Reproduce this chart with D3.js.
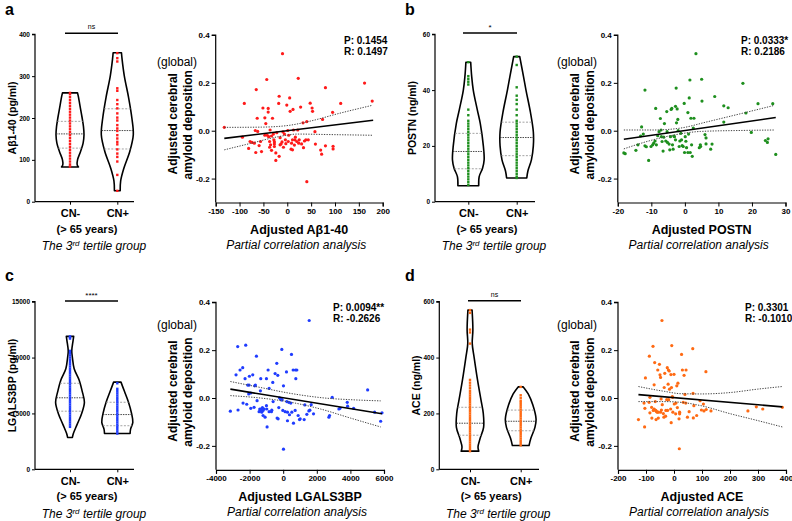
<!DOCTYPE html>
<html><head><meta charset="utf-8">
<script src="https://cdn.jsdelivr.net/npm/d3@7"></script>
<style>body{margin:0;background:#fff} svg text{font-family:"Liberation Sans",Arial,sans-serif}</style>
</head><body><svg id="chart" width="792" height="521"></svg>
<script>
// ---------------- DATA ----------------
const groups = ["CN-", "CN+"];
const scatterYTicks = [-0.2, 0, 0.2, 0.4];

// Panel a: Aβ1-40
const aViolinTicks = [0, 100, 200, 300, 400];
const aDotsNeg = [260,257,250,243,236,229,222,215,208,201,194,187,180,173,166,159,152,145,138,131,124,117,110,103,96,89,84];
const aDotsPos = [355,343,335,271,265,243,233,223,211,201,194,183,175,169,159,151,143,137,125,115,107,96,64,26];
const aProfileNeg = [[83,0.53],[88,0.45],[100,0.47],[120,0.66],[140,0.82],[160,0.875],[180,0.84],[200,0.76],[230,0.62],[250,0.53],[260,0.47]];
const aProfilePos = [[26,0.18],[50,0.21],[80,0.41],[120,0.78],[160,1.0],[200,0.91],[250,0.70],[300,0.44],[340,0.30],[356,0.26]];
const aQuartNeg = [128, 162, 192];
const aQuartPos = [126, 170, 222];
const aXTicks = [-150,-100,-50,0,50,100,150,200];
const aPoints = [[-132,0.014],[-94,-0.027],[-90,0.114],[-81,-0.074],[-66,-0.091],[-65,0.172],[-63,0.052],[-62,-0.003],[-67,0.001],[-78,-0.045],[-74,-0.049],[-69,-0.052],[-59,-0.062],[-54,-0.087],[-51,0.095],[-47,0.054],[-45,0.030],[-43,0.214],[-42,-0.019],[-40,0.093],[-40,0.078],[-36,0.003],[-39,-0.025],[-37,-0.045],[-35,-0.059],[-37,-0.069],[-33,-0.082],[-31,0.052],[-29,-0.014],[-28,-0.038],[-27,-0.047],[-27,-0.056],[-27,-0.066],[-24,-0.093],[-24,-0.124],[-18,0.114],[-17,0.144],[-17,-0.107],[-15,-0.029],[-13,-0.055],[-11,-0.047],[-10,0.322],[-9,-0.005],[-8,-0.069],[-6,-0.014],[-4,-0.038],[-3,-0.054],[-1,0.107],[1,0.001],[3,-0.019],[5,0.137],[6,0.081],[9,-0.052],[11,-0.080],[12,0.089],[13,0.003],[15,-0.060],[17,-0.027],[20,-0.045],[22,0.003],[23,0.219],[24,-0.052],[28,0.099],[30,-0.055],[33,0.033],[34,-0.071],[36,-0.043],[39,-0.038],[41,0.038],[41,-0.213],[44,-0.038],[48,0.115],[52,0.095],[53,0.081],[58,-0.004],[59,-0.056],[70,-0.081],[72,-0.098],[74,0.047],[80,0.180],[80,-0.063],[95,0.077],[96,-0.065],[96,-0.076],[112,0.114],[162,0.199],[178,0.124],[2,-0.045],[8,-0.077],[16,-0.038],[-22,-0.008],[-33,-0.022],[-47,-0.019],[-56,-0.045],[-15,-0.059],[25,-0.038],[11,-0.038]];
const aFit = [[-132,-0.032],[180,0.044]];
const aUpper = [[-132,0.014],[-54,0.015],[2,0.022],[50,0.041],[106,0.071],[178,0.106]];
const aLower = [[-132,-0.080],[-75,-0.052],[-19,-0.025],[22,-0.014],[85,-0.016],[178,-0.019]];

// Panel b: POSTN
const bViolinTicks = [0, 20, 40, 60];
const bDotsNeg = [50,45,44,43,42,33,31,29,28,27,26,25,24,23,22,21,20,19,18,17,16,15,14,13,12,11,10,9,8,7,6];
const bDotsPos = [52,49,41,38,36.5,35,33,31,29,28,27,26,25,24,23,22,21,20,19,18,17,16,15,14,13,12,11,10,9,8.5];
const bProfileNeg = [[5.7,0.65],[9,0.68],[12,0.89],[15,0.99],[20,0.94],[28,0.75],[33,0.56],[40,0.31],[45,0.21],[50,0.15]];
const bProfilePos = [[8.5,0.63],[11,0.70],[15,0.92],[20,1.04],[25,1.04],[32,0.86],[40,0.58],[45,0.42],[52,0.19]];
const bQuartNeg = [11.8, 18, 24.5];
const bQuartPos = [16.5, 23, 28.5];
const bXTicks = [-20,-10,0,10,20,30];
const bPoints = [[-18.2,-0.093],[-17.8,-0.096],[-14.6,-0.082],[-14.0,-0.059],[-13.2,-0.022],[-12.9,0.016],[-12.4,-0.014],[-11.9,0.170],[-11.9,-0.063],[-11.5,-0.067],[-10.8,-0.124],[-10.1,-0.066],[-9.6,-0.059],[-8.9,-0.043],[-8.7,0.093],[-8.5,-0.059],[-8.1,-0.021],[-7.7,-0.004],[-7.3,0.051],[-7.1,0.003],[-7.0,-0.025],[-6.8,-0.045],[-6.5,-0.085],[-6.3,-0.027],[-6.1,0.030],[-5.7,-0.043],[-5.4,0.080],[-5.2,-0.049],[-4.7,-0.056],[-4.5,-0.080],[-4.1,0.089],[-3.9,0.093],[-3.7,-0.059],[-3.5,-0.077],[-3.3,-0.022],[-3.1,-0.025],[-2.8,0.102],[-2.6,0.178],[-2.5,0.033],[-2.3,0.091],[-2.1,0.047],[-2.0,0.000],[-1.7,-0.066],[-1.5,-0.043],[-1.0,-0.038],[-0.8,-0.062],[-0.5,-0.066],[-0.2,0.114],[-0.1,-0.091],[0.3,-0.044],[0.5,-0.071],[0.9,0.076],[0.9,-0.091],[1.1,-0.014],[1.3,0.137],[1.5,0.212],[1.6,-0.091],[1.8,0.052],[2.0,-0.059],[2.2,-0.107],[2.5,0.011],[2.7,0.052],[3.3,0.322],[4.3,-0.071],[4.6,-0.059],[4.7,-0.066],[5.0,0.215],[5.1,0.124],[6.0,-0.016],[6.3,-0.030],[6.3,-0.055],[7.7,-0.077],[8.1,-0.056],[8.9,0.143],[11.6,0.104],[11.6,0.036],[12.9,0.096],[17.3,0.198],[18.2,0.074],[19.8,-0.007],[21.8,0.113],[24.0,-0.041],[24.6,-0.049],[24.8,-0.034],[26.2,0.113],[27.1,-0.099],[-5.3,-0.004],[-1.2,-0.011],[-2.8,-0.038],[-9.3,-0.052],[-4.3,-0.025],[0.1,-0.025]];
const bFit = [[-18.2,-0.036],[27.1,0.055]];
const bUpper = [[-18.2,0.003],[-9.3,0.003],[-1.3,0.011],[6.6,0.037],[16.6,0.071],[26.7,0.106]];
const bLower = [[-18.2,-0.076],[-11.3,-0.045],[-3.3,-0.018],[4.7,-0.003],[16.6,0.001],[26.7,0.003]];

// Panel c: LGALS3BP
const cViolinTicks = [0, 5000, 10000, 15000];
const cDotsNeg = [11900,11800,11700,10600,10400,10200,10000,9800,9600,9400,9200,9000,8800,8600,8400,8200,8000,7800,7600,7400,7200,7000,6800,6600,6400,6200,6000,5800,5600,5400,5200,5000,4800,4600,4400,4200,4000,3800];
const cDotsPos = [7700,7200,7000,6800,6600,6400,6200,6000,5800,5600,5400,5200,5000,4800,4600,4400,4200,4000,3800,3600,3400,3200];
const cProfileNeg = [[2850,0.15],[3200,0.21],[4000,0.44],[5000,0.73],[6000,0.90],[7000,0.76],[8000,0.57],[9000,0.26],[10000,0.15],[10600,0.11],[11500,0.19],[11900,0.23]];
const cProfilePos = [[3200,0.80],[3600,0.83],[4200,0.97],[5000,0.89],[6000,0.70],[7000,0.44],[7800,0.23]];
const cQuartNeg = [5200, 6400, 7700];
const cQuartPos = [3900, 4900, 6000];
const cXTicks = [-4000,-2000,0,2000,4000,6000];
const cPoints = [[-3145,-0.055],[-2807,0.097],[-2708,0.215],[-2688,-0.050],[-2569,0.117],[-2410,0.127],[-2390,-0.021],[-2270,0.081],[-2231,0.221],[-2171,-0.026],[-2111,0.054],[-2052,0.017],[-2032,0.054],[-2012,0.091],[-1932,0.021],[-1932,-0.043],[-1813,0.097],[-1734,-0.039],[-1694,0.051],[-1654,0.054],[-1594,0.175],[-1555,-0.011],[-1435,-0.057],[-1396,-0.046],[-1356,0.030],[-1336,0.081],[-1316,-0.046],[-1276,-0.059],[-1236,-0.040],[-1197,-0.052],[-1197,-0.073],[-1137,-0.046],[-1078,-0.080],[-998,0.081],[-998,-0.032],[-978,-0.046],[-958,-0.121],[-899,0.117],[-839,0.040],[-839,-0.057],[-700,-0.057],[-680,-0.051],[-600,-0.015],[-481,0.102],[-382,0.145],[-362,-0.084],[-322,0.095],[-302,-0.087],[-262,-0.040],[-222,0.001],[-163,-0.004],[-103,-0.008],[-83,0.203],[-63,-0.007],[-23,-0.052],[16,0.051],[16,-0.214],[115,-0.057],[195,0.109],[215,-0.015],[254,-0.095],[334,-0.018],[374,-0.070],[453,-0.021],[493,0.182],[513,-0.059],[592,0.117],[612,-0.105],[712,-0.052],[732,0.117],[751,0.081],[811,0.117],[890,-0.073],[970,-0.090],[1010,-0.087],[1248,-0.090],[1288,-0.029],[1407,-0.068],[1527,-0.054],[1547,0.324],[1587,-0.051],[1666,-0.028],[1805,-0.066],[2720,-0.080],[2760,-0.073],[2918,0.003],[3316,-0.046],[3376,-0.043],[3813,-0.018],[3833,-0.034],[4191,-0.043],[5026,0.034],[5443,-0.059],[5801,-0.097],[5881,-0.062],[254,-0.059],[-1356,-0.052],[-620,0.065]];
const cFit = [[-3145,0.037],[5881,-0.066]];
const cUpper = [[-3145,0.069],[-1356,0.044],[632,0.017],[2620,-0.001],[4012,-0.007],[5801,-0.012]];
const cLower = [[-3145,0.010],[-1356,0.000],[235,-0.015],[2223,-0.046],[4012,-0.084],[5801,-0.121]];

// Panel d: ACE
const dViolinTicks = [0, 200, 400, 600];
const dDotsNeg = [570,560,500,490,450,320,310,300,290,280,272,264,256,248,240,232,224,216,208,200,192,184,176,168,160,152,144,136,128,120,112,104,96,88,80,72,65];
const dDotsPos = [295,265,255,245,238,230,222,214,206,198,190,182,174,166,158,150,142,134,126,118,110,102,94,86];
const dProfileNeg = [[65,0.55],[80,0.50],[110,0.63],[150,0.85],[200,0.83],[250,0.68],[320,0.47],[400,0.26],[450,0.14],[500,0.18],[570,0.13]];
const dProfilePos = [[85,0.52],[110,0.63],[150,0.89],[180,0.96],[230,0.76],[270,0.47],[295,0.16]];
const dQuartNeg = [122, 165, 222];
const dQuartPos = [138, 172, 212];
const dXTicks = [-200,-100,0,100,200,300,400];
const dPoints = [[-127,-0.090],[-105,-0.121],[-102,0.084],[-107,-0.021],[-104,-0.043],[-89,-0.018],[-88,0.175],[-86,0.003],[-86,-0.062],[-80,-0.039],[-79,-0.084],[-75,0.216],[-71,0.055],[-71,-0.046],[-69,0.148],[-68,-0.050],[-67,-0.015],[-65,-0.052],[-64,-0.090],[-62,-0.057],[-60,-0.059],[-58,0.117],[-56,-0.059],[-56,-0.084],[-52,0.141],[-50,0.097],[-48,0.086],[-46,-0.004],[-45,-0.050],[-43,0.324],[-42,-0.028],[-38,-0.065],[-36,-0.080],[-35,0.044],[-33,0.103],[-30,-0.076],[-29,-0.052],[-26,-0.007],[-24,0.127],[-23,-0.052],[-21,0.058],[-20,0.117],[-19,-0.007],[-17,0.113],[-16,0.037],[-12,-0.046],[-11,0.098],[-10,-0.103],[-9,0.044],[-8,0.219],[-6,0.006],[-5,0.003],[-4,-0.059],[0,0.099],[1,-0.025],[7,-0.021],[10,0.051],[12,-0.040],[14,0.062],[19,-0.212],[18,-0.087],[20,-0.059],[20,-0.066],[27,0.182],[30,0.117],[33,-0.018],[36,0.095],[39,0.015],[42,-0.021],[43,0.117],[48,-0.080],[54,-0.057],[67,0.206],[68,0.019],[69,-0.083],[71,-0.032],[81,-0.073],[93,-0.011],[98,-0.050],[105,-0.025],[107,-0.054],[114,0.110],[115,-0.048],[132,-0.054],[264,-0.054],[294,-0.037],[317,-0.046],[387,-0.039],[-74,-0.052],[-48,-0.059],[6,-0.066]];
const dFit = [[-127,0.014],[387,-0.037]];
const dUpper = [[-127,0.048],[-35,0.028],[25,0.018],[96,0.017],[202,0.023],[298,0.037],[387,0.048]];
const dLower = [[-127,-0.015],[-35,-0.015],[25,-0.018],[96,-0.032],[202,-0.066],[298,-0.094],[387,-0.121]];

// ---------------- LAYOUT ----------------
const panels = [
  {letter:"a", lx:5, ly:15, color:"#ff1a1a",
   v:{axisX:35, centers:[70,117.3], yTop:34.3, yBot:201.7, xEnd:134, domain:[0,400], ticks:aViolinTicks,
      dotsNeg:aDotsNeg, dotsPos:aDotsPos, profNeg:aProfileNeg, profPos:aProfilePos, qNeg:aQuartNeg, qPos:aQuartPos,
      ylabel:"Aβ1-40 (pg/ml)", sig:"ns", sigY:33.3, sigX:[65,118]},
   s:{x0:215.7, x1:382.7, yTop:35, yBot:202.5, domain:[-150,200], ticks:aXTicks, points:aPoints, fit:aFit, up:aUpper, lo:aLower,
      xlabel:"Adjusted Aβ1-40", p:"P: 0.1454", r:"R: 0.1497", px:344, globalX:157, globalY:66}},
  {letter:"b", lx:405, ly:15, color:"#1e8f1e",
   v:{axisX:435, centers:[468.3,516.7], yTop:34.3, yBot:201.7, xEnd:535, domain:[0,60], ticks:bViolinTicks,
      dotsNeg:bDotsNeg, dotsPos:bDotsPos, profNeg:bProfileNeg, profPos:bProfilePos, qNeg:bQuartNeg, qPos:bQuartPos,
      ylabel:"POSTN (ng/ml)", sig:"*", sigY:33, sigX:[463,517]},
   s:{x0:617.8, x1:785.5, yTop:35, yBot:202.5, domain:[-20,30], ticks:bXTicks, points:bPoints, fit:bFit, up:bUpper, lo:bLower,
      xlabel:"Adjusted POSTN", p:"P: 0.0333*", r:"R: 0.2186", px:741, globalX:557, globalY:66}},
  {letter:"c", lx:5, ly:281, color:"#1f3cff",
   v:{axisX:35, centers:[70,117.3], yTop:301.7, yBot:469.3, xEnd:134, domain:[0,15000], ticks:cViolinTicks,
      dotsNeg:cDotsNeg, dotsPos:cDotsPos, profNeg:cProfileNeg, profPos:cProfilePos, qNeg:cQuartNeg, qPos:cQuartPos,
      ylabel:"LGALS3BP (pg/ml)", sig:"****", sigY:301, sigX:[65,118]},
   s:{x0:216, x1:384, yTop:302.3, yBot:469.8, domain:[-4000,6000], ticks:cXTicks, points:cPoints, fit:cFit, up:cUpper, lo:cLower,
      xlabel:"Adjusted LGALS3BP", p:"P: 0.0094**", r:"R: -0.2626", px:333, globalX:157, globalY:329}},
  {letter:"d", lx:405, ly:281, color:"#ff6a13",
   v:{axisX:439.3, centers:[470,520.7], yTop:301.7, yBot:469.3, xEnd:539, domain:[0,600], ticks:dViolinTicks,
      dotsNeg:dDotsNeg, dotsPos:dDotsPos, profNeg:dProfileNeg, profPos:dProfilePos, qNeg:dQuartNeg, qPos:dQuartPos,
      ylabel:"ACE (ng/ml)", sig:"ns", sigY:300.7, sigX:[468,521]},
   s:{x0:618, x1:786, yTop:302.3, yBot:469.8, domain:[-200,400], ticks:dXTicks, points:dPoints, fit:dFit, up:dUpper, lo:dLower,
      xlabel:"Adjusted ACE", p:"P: 0.3301", r:"R: -0.1010", px:745, globalX:557, globalY:329}}
];

const svg = d3.select("#chart");
const wScale = d3.scaleLinear().domain([0,1]).range([0,16]);

function widthAt(prof, v){
  for(let i=0;i<prof.length-1;i++){
    const [v0,w0]=prof[i],[v1,w1]=prof[i+1];
    if(v>=v0 && v<=v1) return w0+(w1-w0)*(v-v0)/(v1-v0);
  }
  return v<prof[0][0]?prof[0][1]:prof[prof.length-1][1];
}

function styleAxis(g, fs){
  g.selectAll("path.domain").attr("stroke","#000").attr("stroke-width",1.2);
  g.selectAll(".tick line").attr("stroke","#000").attr("stroke-width",1);
  g.selectAll(".tick text").attr("fill","#000").attr("font-size",fs).attr("font-weight","bold")
    .style("font-family","'Liberation Sans',Arial,sans-serif");
}

panels.forEach(P=>{
  const g = svg.append("g");
  g.append("text").attr("x",P.lx).attr("y",P.ly).text(P.letter)
    .attr("font-size",16).attr("font-weight","bold");

  // ---- violin ----
  const V = P.v;
  const y = d3.scaleLinear().domain(V.domain).range([V.yBot, V.yTop]);
  const x = d3.scalePoint().domain(groups).range(V.centers);
  const ya = g.append("g").attr("transform",`translate(${V.axisX},0)`)
    .call(d3.axisLeft(y).tickValues(V.ticks).tickSize(3).tickPadding(2).tickFormat(d=>String(d)));
  ya.select(".domain").attr("d",`M-3,${V.yTop}H0V${V.yBot}`);
  styleAxis(ya, 6.5);
  g.append("line").attr("x1",V.axisX).attr("x2",V.xEnd).attr("y1",V.yBot).attr("y2",V.yBot)
    .attr("stroke","#000").attr("stroke-width",1.2);
  const xa = g.append("g").attr("transform",`translate(0,${V.yBot})`)
    .call(d3.axisBottom(x).tickSize(3).tickPadding(5));
  xa.select(".domain").remove();
  styleAxis(xa, 11);
  g.append("text").attr("transform",`translate(${V.axisX-19},${(V.yTop+V.yBot)/2}) rotate(-90)`)
    .attr("text-anchor","middle").attr("font-size",10.5).attr("font-weight","bold").text(V.ylabel);
  const midX = V.axisX + 52;
  g.append("text").attr("x",midX).attr("y",V.yBot+31).attr("text-anchor","middle")
    .attr("font-size",11).attr("font-weight","bold").text("(> 65 years)");
  const t3 = g.append("text").attr("x",V.axisX+59).attr("y",V.yBot+48.5).attr("text-anchor","middle")
    .attr("font-size",12).attr("font-style","italic");
  t3.append("tspan").text("The 3");
  t3.append("tspan").attr("dy",-4).attr("font-size",8).text("rd");
  t3.append("tspan").attr("dy",4).text(" tertile group");

  // significance
  g.append("line").attr("x1",V.sigX[0]).attr("x2",V.sigX[1]).attr("y1",V.sigY).attr("y2",V.sigY)
    .attr("stroke","#000").attr("stroke-width",1.5);
  g.append("text").attr("x",(V.sigX[0]+V.sigX[1])/2).attr("y",V.sigY-(V.sig==="ns"?4:3))
    .attr("text-anchor","middle").attr("font-size",V.sig==="ns"?7:8).text(V.sig);

  [[V.profNeg,V.dotsNeg,V.qNeg,groups[0]],[V.profPos,V.dotsPos,V.qPos,groups[1]]].forEach(([prof,dots,q,grp])=>{
    const cx = x(grp);
    const area = d3.area().y(d=>y(d[0])).x0(d=>cx-wScale(d[1])).x1(d=>cx+wScale(d[1])).curve(d3.curveCatmullRom);
    g.append("path").attr("d",area(prof)).attr("fill","none").attr("stroke","#000").attr("stroke-width",1.6)
      .attr("stroke-linejoin","round");
    q.forEach((qv,i)=>{
      const w = wScale(widthAt(prof,qv));
      g.append("line").attr("x1",cx-w).attr("x2",cx+w).attr("y1",y(qv)).attr("y2",y(qv))
        .attr("stroke",i===1?"#333":"#999").attr("stroke-width",0.9).attr("stroke-dasharray",i===1?"1.5,1":"2,1.5");
    });
    g.selectAll(null).data(dots).enter().append("rect")
      .attr("x",cx-1.2).attr("y",d=>y(d)-1.2).attr("width",2.4).attr("height",2.4).attr("fill",P.color);
  });

  // ---- scatter ----
  const S = P.s;
  const sx = d3.scaleLinear().domain(S.domain).range([S.x0,S.x1]);
  const sy = d3.scaleLinear().domain([-0.3,0.4]).range([S.yBot,S.yTop]);
  const sxa = g.append("g").attr("transform",`translate(0,${S.yBot})`)
    .call(d3.axisBottom(sx).tickValues(S.ticks).tickSize(4).tickPadding(2).tickFormat(d=>String(d)));
  styleAxis(sxa, 8);
  const sya = g.append("g").attr("transform",`translate(${S.x0},0)`)
    .call(d3.axisLeft(sy).tickValues(scatterYTicks).tickSize(4).tickPadding(2).tickFormat(d=>d.toFixed(1)));
  sya.select(".domain").attr("d",`M-4,${S.yTop}H0V${S.yBot}`);
  styleAxis(sya, 8);

  const line = d3.line().x(d=>sx(d[0])).y(d=>sy(d[1]));
  const cline = d3.line().x(d=>sx(d[0])).y(d=>sy(d[1])).curve(d3.curveMonotoneX);
  g.selectAll(null).data(S.points).enter().append("circle")
    .attr("cx",d=>sx(d[0])).attr("cy",d=>sy(d[1])).attr("r",1.6).attr("fill",P.color);
  [S.up,S.lo].forEach(arr=>{
    g.append("path").attr("d",cline(arr)).attr("fill","none").attr("stroke","#444")
      .attr("stroke-width",1).attr("stroke-dasharray","1.3,1.3");
  });
  g.append("path").attr("d",line(S.fit)).attr("fill","none").attr("stroke","#000").attr("stroke-width",1.6);

  g.append("text").attr("x",S.px).attr("y",S.yTop+8.5).attr("font-size",10).attr("font-weight","bold").text(S.p);
  g.append("text").attr("x",S.px).attr("y",S.yTop+19.5).attr("font-size",10).attr("font-weight","bold").text(S.r);
  const cy = (S.yTop+S.yBot)/2;
  g.append("text").attr("transform",`translate(${S.x0-39},${cy+5}) rotate(-90)`).attr("text-anchor","middle")
    .attr("font-size",12).attr("font-weight","bold").text("Adjusted cerebral");
  g.append("text").attr("transform",`translate(${S.x0-24},${cy+6}) rotate(-90)`).attr("text-anchor","middle")
    .attr("font-size",12).attr("font-weight","bold").text("amyloid deposition");
  g.append("text").attr("x",S.globalX).attr("y",S.globalY).attr("font-size",12).text("(global)");
  const xm = (S.x0+S.x1)/2;
  g.append("text").attr("x",xm).attr("y",S.yBot+31).attr("text-anchor","middle")
    .attr("font-size",12.5).attr("font-weight","bold").text(S.xlabel);
  g.append("text").attr("x",xm-3).attr("y",S.yBot+46.5).attr("text-anchor","middle")
    .attr("font-size",12).attr("font-style","italic").text("Partial correlation analysis");
});
</script></body></html>
